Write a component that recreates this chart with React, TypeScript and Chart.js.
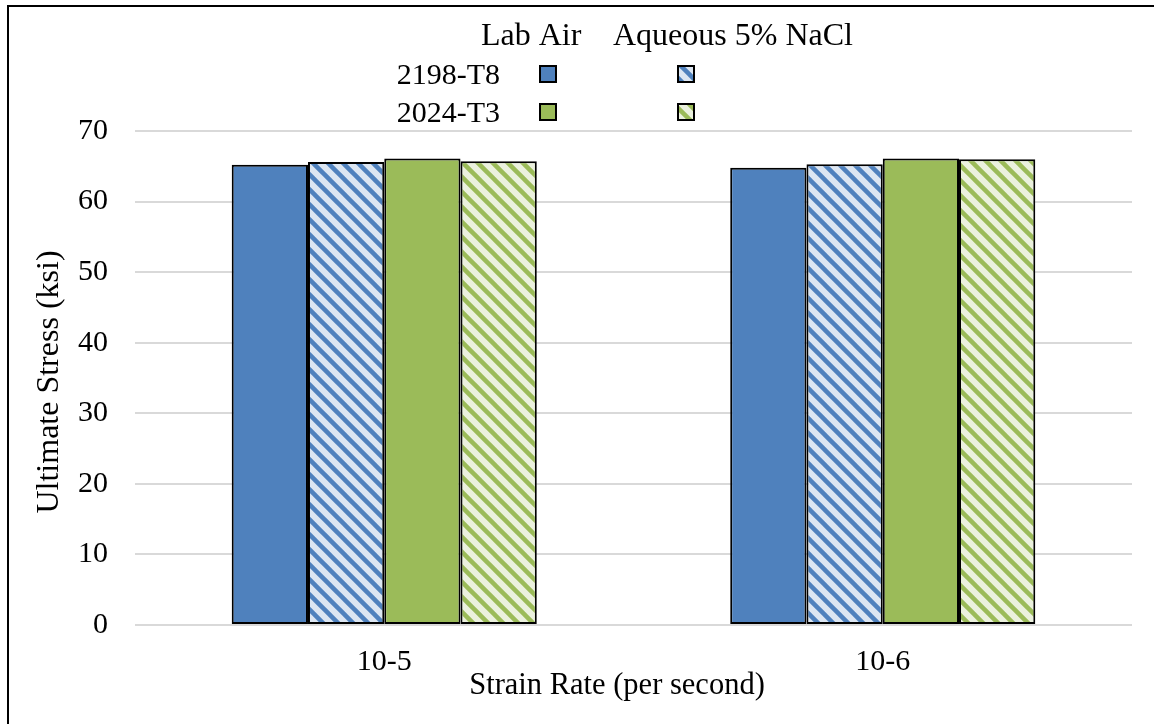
import React, { useEffect, useRef } from "react";
import { Chart, registerables } from "chart.js";

Chart.register(...registerables);

const categories = ["10-5", "10-6"];
const alloyLabels = ["2198-T8", "2024-T3"];
const environmentLabels = ["Lab Air", "Aqueous 5% NaCl"];
const yTicks = [0, 10, 20, 30, 40, 50, 60, 70];

const alloy2198LabAir = [65.2, 64.8];
const alloy2198NaCl = [65.6, 65.3];
const alloy2024LabAir = [66.1, 66.1];
const alloy2024NaCl = [65.7, 66.0];

const xTitle = "Strain Rate (per second)";
const yTitle = "Ultimate Stress (ksi)";

const BLUE = "#4F81BD";
const BLUE_LIGHT = "#DCE6F2";
const GREEN = "#9BBB59";
const GREEN_LIGHT = "#EBF1DE";
const FONT = "'Liberation Serif', 'Times New Roman', serif";

function makeHatch(fg: string, bg: string): CanvasPattern | string {
  const s = 15;
  const c = document.createElement("canvas");
  c.width = s;
  c.height = s;
  const ctx = c.getContext("2d");
  if (!ctx) return fg;
  ctx.fillStyle = bg;
  ctx.fillRect(0, 0, s, s);
  ctx.strokeStyle = fg;
  ctx.lineWidth = 4.5;
  for (const k of [-s, 0, s]) {
    ctx.beginPath();
    ctx.moveTo(k - 2, -2);
    ctx.lineTo(k + s + 2, s + 2);
    ctx.stroke();
  }
  const p = ctx.createPattern(c, "repeat");
  return p || fg;
}

const customText = {
  id: "customText",
  afterDraw(chart: any) {
    const ctx = chart.ctx;
    const ds = chart.data.datasets;
    ctx.save();
    ctx.fillStyle = "#000";
    ctx.font = `32px ${FONT}`;
    ctx.textBaseline = "alphabetic";
    ctx.textAlign = "left";
    // legend header
    ctx.fillText(environmentLabels[0], 481, 45);
    ctx.fillText(environmentLabels[1], 613, 45);
    // legend rows
    ctx.font = `30px ${FONT}`;
    ctx.textAlign = "right";
    ctx.fillText(alloyLabels[0], 500, 84);
    ctx.fillText(alloyLabels[1], 500, 122);
    const boxes = [
      { x: 540, y: 66, d: 0 },
      { x: 678, y: 66, d: 1 },
      { x: 540, y: 104, d: 2 },
      { x: 678, y: 104, d: 3 },
    ];
    for (const b of boxes) {
      ctx.fillStyle = ds[b.d].backgroundColor;
      ctx.fillRect(b.x, b.y, 16, 16);
      ctx.strokeStyle = "#000";
      ctx.lineWidth = 2;
      ctx.strokeRect(b.x, b.y, 16, 16);
    }
    // axis titles
    ctx.fillStyle = "#000";
    ctx.textAlign = "center";
    ctx.textBaseline = "middle";
    ctx.font = `30.5px ${FONT}`;
    ctx.fillText(xTitle, 617, 686);
    ctx.font = `32px ${FONT}`;
    ctx.translate(50, 382);
    ctx.rotate(-Math.PI / 2);
    ctx.fillText(yTitle, 0, 0);
    ctx.restore();
  },
};

export default function App() {
  const ref = useRef<HTMLCanvasElement | null>(null);

  useEffect(() => {
    if (!ref.current) return;
    const hatchBlue = makeHatch(BLUE, BLUE_LIGHT);
    const hatchGreen = makeHatch(GREEN, GREEN_LIGHT);
    const common = {
      borderColor: "#000",
      borderWidth: 2,
      borderSkipped: false,
      barPercentage: 1,
      categoryPercentage: 0.612,
    };
    const chart = new Chart(ref.current, {
      type: "bar",
      data: {
        labels: categories,
        datasets: [
          { label: `${alloyLabels[0]} ${environmentLabels[0]}`, data: alloy2198LabAir, backgroundColor: BLUE, ...common },
          { label: `${alloyLabels[0]} ${environmentLabels[1]}`, data: alloy2198NaCl, backgroundColor: hatchBlue, ...common },
          { label: `${alloyLabels[1]} ${environmentLabels[0]}`, data: alloy2024LabAir, backgroundColor: GREEN, ...common },
          { label: `${alloyLabels[1]} ${environmentLabels[1]}`, data: alloy2024NaCl, backgroundColor: hatchGreen, ...common },
        ] as any,
      },
      options: {
        responsive: false,
        animation: false,
        layout: { padding: { top: 131, right: 22, left: 0, bottom: 0 } },
        plugins: {
          legend: { display: false },
          tooltip: { enabled: false },
          title: { display: false },
        },
        scales: {
          x: {
            grid: { display: false, drawTicks: false },
            border: { display: false },
            ticks: { color: "#000", font: { family: FONT, size: 30 }, padding: 19 },
            afterFit: (scale: any) => {
              scale.height = 99;
            },
          },
          y: {
            min: 0,
            max: 70,
            afterBuildTicks: (scale: any) => {
              scale.ticks = yTicks.map((v) => ({ value: v }));
            },
            grid: { color: "#D9D9D9", lineWidth: 2, drawTicks: false },
            border: { display: false },
            ticks: { color: "#000", font: { family: FONT, size: 30 }, padding: 27 },
            afterFit: (scale: any) => {
              scale.width = 135;
            },
          },
        },
      } as any,
      plugins: [customText],
    });
    return () => chart.destroy();
  }, []);

  return (
    <div style={{ position: "absolute", left: 0, top: 0, width: 1154, height: 724, background: "#fff", overflow: "hidden" }}>
      <canvas ref={ref} width={1154} height={724} style={{ display: "block" }} />
      <div
        style={{
          position: "absolute",
          left: 7,
          top: 5,
          width: 1147,
          height: 719,
          borderLeft: "2px solid #000",
          borderTop: "2px solid #000",
          pointerEvents: "none",
        }}
      />
    </div>
  );
}
